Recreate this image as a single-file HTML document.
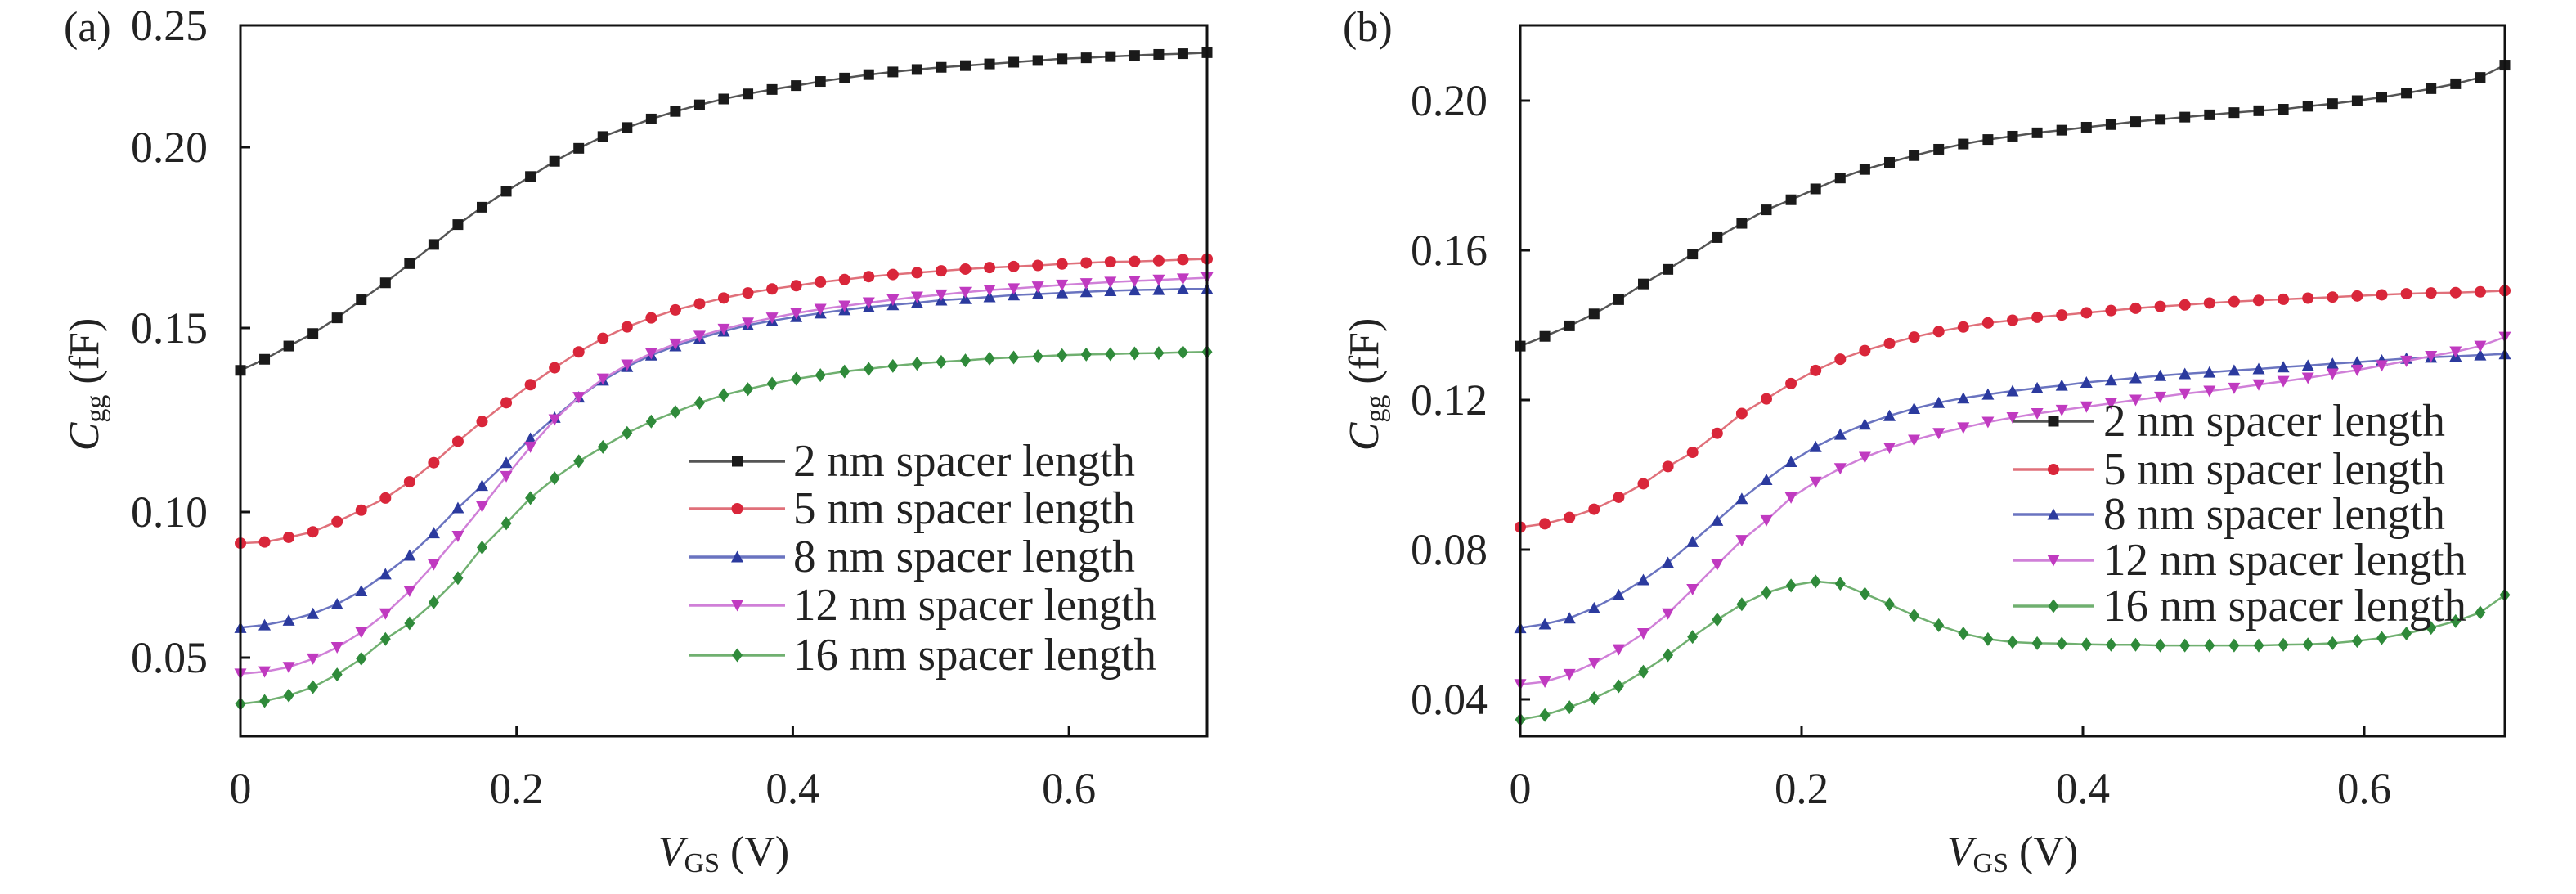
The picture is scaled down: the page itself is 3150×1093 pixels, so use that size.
<!DOCTYPE html>
<html><head><meta charset="utf-8"><style>
html,body{margin:0;padding:0;background:#fff;}
svg{display:block;}
svg text{font-family:"Liberation Serif","DejaVu Serif","Times New Roman",Times,serif;fill:#222;}
</style></head><body>
<svg id="fig" width="3150" height="1093" viewBox="0 0 3150 1093" xmlns="http://www.w3.org/2000/svg" font-family="Liberation Serif, DejaVu Serif, serif"></svg>
<script>
// ---------- data ----------
const xValues = Array.from({length:41},(_,i)=>i*0.0175); // V_GS sample points 0..0.7
const seriesNames = ["2 nm spacer length","5 nm spacer length","8 nm spacer length","12 nm spacer length","16 nm spacer length"];
const xTicks = [0,0.2,0.4,0.6];
const xTickLabels = ["0","0.2","0.4","0.6"];
const yTicksA = [0.05,0.10,0.15,0.20,0.25];
const yTickLabelsA = ["0.05","0.10","0.15","0.20","0.25"];
const yTicksB = [0.04,0.08,0.12,0.16,0.20];
const yTickLabelsB = ["0.04","0.08","0.12","0.16","0.20"];

const a2 = [0.1385,0.1415,0.1451,0.1485,0.1528,0.1578,0.1625,0.1678,0.1731,0.1786,0.1834,0.1878,0.1919,0.1961,0.1997,0.2044,0.2081,0.2116,0.2147,0.2174,0.2198,0.2219,0.2237,0.2253,0.2270,0.2284,0.2298,0.2309,0.2319,0.2328,0.2335,0.2342,0.2349,0.2356,0.2363,0.2367,0.2372,0.2377,0.2381,0.2384,0.2388];
const a5 = [0.0893,0.0897,0.0913,0.0932,0.0967,0.1005,0.1038,0.1082,0.1134,0.1192,0.1246,0.1297,0.1346,0.1392,0.1435,0.1472,0.1503,0.1528,0.1550,0.1567,0.1583,0.1597,0.1608,0.1617,0.1627,0.1634,0.1642,0.1648,0.1653,0.1658,0.1663,0.1667,0.1670,0.1673,0.1677,0.1680,0.1683,0.1684,0.1686,0.1689,0.1691];
const a8 = [0.0603,0.0612,0.0628,0.0651,0.0684,0.0729,0.0787,0.0851,0.0928,0.1011,0.1072,0.1134,0.1200,0.1257,0.1312,0.1358,0.1395,0.1426,0.1451,0.1472,0.1491,0.1508,0.1520,0.1531,0.1541,0.1550,0.1558,0.1564,0.1570,0.1577,0.1581,0.1586,0.1591,0.1594,0.1597,0.1600,0.1603,0.1605,0.1606,0.1608,0.1608];
const a12 = [0.0444,0.0452,0.0467,0.0496,0.0535,0.0587,0.0651,0.0729,0.0820,0.0917,0.1015,0.1097,0.1177,0.1251,0.1312,0.1362,0.1400,0.1431,0.1457,0.1478,0.1497,0.1514,0.1528,0.1541,0.1552,0.1561,0.1570,0.1578,0.1586,0.1592,0.1599,0.1605,0.1609,0.1614,0.1619,0.1623,0.1627,0.1630,0.1633,0.1636,0.1639];
const a16 = [0.0341,0.0351,0.0370,0.0399,0.0442,0.0496,0.0564,0.0618,0.0690,0.0773,0.0878,0.0961,0.1038,0.1092,0.1138,0.1177,0.1215,0.1246,0.1272,0.1297,0.1318,0.1334,0.1349,0.1362,0.1372,0.1382,0.1389,0.1397,0.1403,0.1408,0.1412,0.1417,0.1420,0.1423,0.1426,0.1428,0.1429,0.1431,0.1432,0.1434,0.1435];

const b2 = [0.1344,0.1370,0.1398,0.1430,0.1468,0.1510,0.1549,0.1590,0.1634,0.1672,0.1708,0.1735,0.1764,0.1793,0.1816,0.1835,0.1853,0.1870,0.1884,0.1896,0.1905,0.1914,0.1921,0.1929,0.1936,0.1944,0.1950,0.1956,0.1962,0.1968,0.1973,0.1977,0.1985,0.1992,0.2000,0.2009,0.2020,0.2032,0.2045,0.2062,0.2095];
const b5 = [0.0860,0.0869,0.0886,0.0908,0.0940,0.0976,0.1022,0.1060,0.1111,0.1164,0.1203,0.1244,0.1279,0.1309,0.1332,0.1351,0.1368,0.1383,0.1395,0.1406,0.1413,0.1421,0.1427,0.1433,0.1439,0.1445,0.1450,0.1454,0.1459,0.1463,0.1466,0.1469,0.1472,0.1475,0.1478,0.1481,0.1484,0.1486,0.1487,0.1489,0.1492];
const b8 = [0.0591,0.0601,0.0617,0.0644,0.0679,0.0719,0.0765,0.0821,0.0878,0.0936,0.0987,0.1035,0.1075,0.1108,0.1135,0.1158,0.1177,0.1193,0.1205,0.1215,0.1224,0.1232,0.1239,0.1247,0.1253,0.1259,0.1265,0.1270,0.1274,0.1279,0.1283,0.1288,0.1292,0.1297,0.1301,0.1306,0.1311,0.1314,0.1317,0.1320,0.1323];
const b12 = [0.0440,0.0447,0.0467,0.0497,0.0533,0.0576,0.0629,0.0694,0.0760,0.0825,0.0878,0.0939,0.0981,0.1017,0.1047,0.1072,0.1093,0.1111,0.1126,0.1141,0.1153,0.1164,0.1173,0.1182,0.1191,0.1200,0.1208,0.1217,0.1224,0.1232,0.1241,0.1250,0.1259,0.1270,0.1280,0.1292,0.1304,0.1317,0.1329,0.1344,0.1368];
const b16 = [0.0346,0.0358,0.0379,0.0403,0.0435,0.0474,0.0518,0.0567,0.0613,0.0654,0.0685,0.0704,0.0715,0.0709,0.0682,0.0654,0.0624,0.0598,0.0576,0.0561,0.0553,0.0550,0.0549,0.0547,0.0546,0.0546,0.0544,0.0544,0.0544,0.0544,0.0544,0.0546,0.0547,0.0550,0.0556,0.0564,0.0576,0.0591,0.0609,0.0632,0.0679];

// ---------- styling ----------
const FONT = '"Liberation Serif", "DejaVu Serif", "Times New Roman", Times, serif';
const colors = ["#1a1a1a","#d9263a","#2b3a9e","#c03ac0","#2f8a3a"];
const lineColors = ["#555","#e0707a","#6a74c0","#d080d8","#70b070"];
const markers = ["square","circle","tri-up","tri-down","diamond"];
const NS = "http://www.w3.org/2000/svg";
const svg = document.getElementById('fig');
function el(tag, attrs, parent){
  const e = document.createElementNS(NS, tag);
  for (const k in attrs) e.setAttribute(k, attrs[k]);
  if (tag==='text') e.style.fontFamily = FONT;
  (parent||svg).appendChild(e);
  return e;
}
function marker(g, type, x, y, color){
  let m;
  const s = 6.5;
  if (type==="square") m = el('rect',{x:x-s,y:y-s,width:2*s,height:2*s,fill:color},g);
  else if (type==="circle") m = el('circle',{cx:x,cy:y,r:s+0.5,fill:color},g);
  else if (type==="tri-up") m = el('polygon',{points:`${x},${y-s-1} ${x-s-1},${y+s} ${x+s+1},${y+s}`,fill:color},g);
  else if (type==="tri-down") m = el('polygon',{points:`${x},${y+s+1} ${x-s-1},${y-s} ${x+s+1},${y-s}`,fill:color},g);
  else m = el('polygon',{points:`${x},${y-s-2} ${x+s},${y} ${x},${y+s+2} ${x-s},${y}`,fill:color},g);
  
  
}

function panel(cfg){
  const g = el('g',{});
  
  
  const {L,R,T,B} = cfg;
  const xs = v => L + (v/0.7)*(R-L);
  const ys = cfg.yScale;
  cfg.series.forEach((vals,si)=>{
    const sg = el('g',{},g);
    
    
    const d = vals.map((v,i)=>(i?'L':'M')+xs(xValues[i]).toFixed(1)+','+ys(v).toFixed(1)).join(' ');
    const p = el('path',{d,fill:'none',stroke:lineColors[si],'stroke-width':2.5},sg);
    
    
    vals.forEach((v,i)=>marker(sg, markers[si], xs(xValues[i]), ys(v), colors[si]));
  });
  const box = el('rect',{x:L,y:T,width:R-L,height:B-T,fill:'none',stroke:'#111','stroke-width':3},g);
  
  
  xTicks.forEach((t,i)=>{
    const x = xs(t);
    if (t>0){ const tk = el('line',{x1:x,x2:x,y1:B,y2:B-12,stroke:'#111','stroke-width':3},g);
        }
    const tx = el('text',{x:x,y:B+82,'font-size':54,'text-anchor':'middle'},g);
    tx.textContent = xTickLabels[i];
    if (xTickLabels[i].length>1){ tx.setAttribute('textLength',66); tx.setAttribute('lengthAdjust','spacingAndGlyphs'); }
    
    
  });
  cfg.yTicks.forEach((t,i)=>{
    const y = ys(t);
    if (Math.abs(y-T)>2){ const tk = el('line',{x1:L,x2:L+12,y1:y,y2:y,stroke:'#111','stroke-width':3},g);
        }
    const tx = el('text',{x:L-40,y:y+18,'font-size':54,'text-anchor':'end',textLength:94,lengthAdjust:'spacingAndGlyphs'},g);
    tx.textContent = cfg.yLabels[i];
    
    
  });
  const xt = el('text',{x:(L+R)/2,y:1058,'font-size':52,'text-anchor':'middle'},g);
  xt.innerHTML = '<tspan font-style="italic">V</tspan><tspan font-size="34" dy="8">GS</tspan><tspan dy="-8"> (V)</tspan>';
  
  
  const yt = el('text',{x:0,y:0,'font-size':52,'text-anchor':'middle',transform:`translate(${cfg.yTitleX},470) rotate(-90)`},g);
  yt.innerHTML = '<tspan font-style="italic">C</tspan><tspan font-size="34" dy="8">gg</tspan><tspan dy="-8"> (fF)</tspan>';
  
  
  const pl = el('text',{x:cfg.labelX,y:50,'font-size':52},g);
  pl.textContent = cfg.label;
  
  
  const lg = el('g',{},g);
  
  
  cfg.legendRows.forEach((ly,si)=>{
    const eg = el('g',{},lg);
    
    
    el('line',{x1:cfg.legX1,x2:cfg.legX2,y1:ly,y2:ly,stroke:lineColors[si],'stroke-width':3.5},eg);
    marker(eg, markers[si], (cfg.legX1+cfg.legX2)/2, ly, colors[si]);
    const t = el('text',{x:cfg.legText,y:ly+18,'font-size':56,textLength:si>=3?444:418,lengthAdjust:'spacingAndGlyphs'},eg);
    t.textContent = seriesNames[si];
  });
}

function yScaleA(v){
  const tv=[0.05,0.10,0.15,0.20,0.25], tp=[804,626,401,180,31];
  if (v<=0.05) return 804 + (0.05-v)/0.05*178;
  for (let i=0;i<4;i++) if (v<=tv[i+1]) return tp[i]+(v-tv[i])/(tv[i+1]-tv[i])*(tp[i+1]-tp[i]);
  return 31;
}
function yScaleB(v){ return 123 + (0.20-v)/0.04*183; }

panel({name:'panel-a',L:294,R:1476,T:31,B:900,yScale:yScaleA,yTicks:yTicksA,yLabels:yTickLabelsA,
  series:[a2,a5,a8,a12,a16],yTitleX:120,label:'(a)',labelX:78,
  legendRows:[564,622,681,740,801],legX1:843,legX2:960,legText:970});
panel({name:'panel-b',L:1859,R:3063,T:31,B:900,yScale:yScaleB,yTicks:yTicksB,yLabels:yTickLabelsB,
  series:[b2,b5,b8,b12,b16],yTitleX:1685,label:'(b)',labelX:1642,
  legendRows:[515,574,629,685,741],legX1:2462,legX2:2560,legText:2572});
</script>
</body></html>
